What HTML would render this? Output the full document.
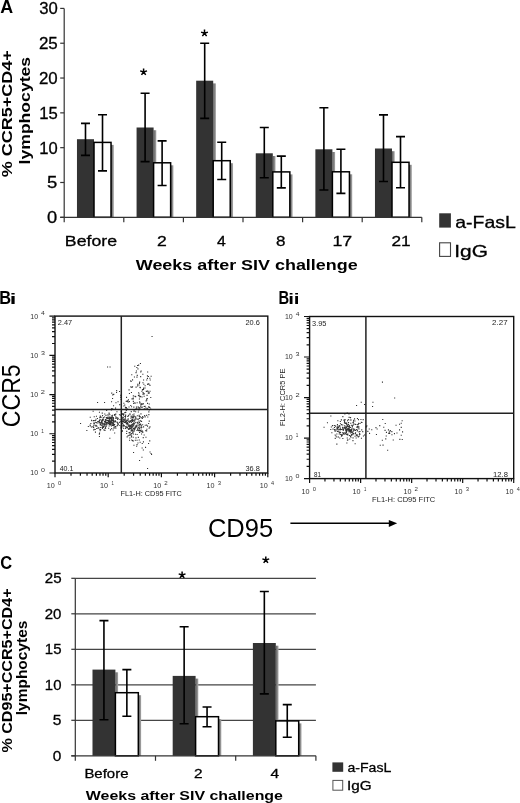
<!DOCTYPE html>
<html><head><meta charset="utf-8"><style>
html,body{margin:0;padding:0;background:#fff;}
svg{display:block;font-family:"Liberation Sans",sans-serif;filter:grayscale(1);}
.v{stroke:#000;stroke-width:0.3px;}
</style></head><body>
<svg width="520" height="803" viewBox="0 0 520 803">
<defs><linearGradient id="sh" x1="0" y1="0" x2="1" y2="0"><stop offset="0" stop-color="#5e5e5e"/><stop offset="1" stop-color="#a8a8a8"/></linearGradient></defs>
<text x="0.35" y="12.60" font-size="17.50" font-weight="bold" fill="#000" textLength="12.93" lengthAdjust="spacingAndGlyphs">A</text>
<text x="-0.77" y="303.60" font-size="17.50" font-weight="bold" fill="#000" textLength="11.84" lengthAdjust="spacingAndGlyphs">B</text>
<text x="9.65" y="303.60" font-size="14.00" font-weight="bold" fill="#000" textLength="6.55" lengthAdjust="spacingAndGlyphs">i</text>
<text x="278.44" y="304.00" font-size="17.50" font-weight="bold" fill="#000" textLength="10.66" lengthAdjust="spacingAndGlyphs">B</text>
<text x="288.17" y="304.00" font-size="14.00" font-weight="bold" fill="#000" textLength="11.38" lengthAdjust="spacingAndGlyphs">ii</text>
<text x="0.34" y="569.00" font-size="17.50" font-weight="bold" fill="#000" textLength="11.91" lengthAdjust="spacingAndGlyphs">C</text>
<rect x="94.00" y="141.90" width="2.7" height="75.40" fill="url(#sh)"/>
<rect x="76.97" y="139.20" width="17.03" height="78.10" fill="#333333"/>
<rect x="111.03" y="144.90" width="2.8" height="72.40" fill="url(#sh)"/>
<rect x="94.00" y="142.40" width="17.03" height="74.90" fill="#fff" stroke="#000" stroke-width="1.5"/>
<rect x="153.60" y="130.20" width="2.7" height="87.10" fill="url(#sh)"/>
<rect x="136.57" y="127.50" width="17.03" height="89.80" fill="#333333"/>
<rect x="170.63" y="165.30" width="2.8" height="52.00" fill="url(#sh)"/>
<rect x="153.60" y="162.80" width="17.03" height="54.50" fill="#fff" stroke="#000" stroke-width="1.5"/>
<rect x="213.20" y="83.40" width="2.7" height="133.90" fill="url(#sh)"/>
<rect x="196.17" y="80.70" width="17.03" height="136.60" fill="#333333"/>
<rect x="230.23" y="163.20" width="2.8" height="54.10" fill="url(#sh)"/>
<rect x="213.20" y="160.70" width="17.03" height="56.60" fill="#fff" stroke="#000" stroke-width="1.5"/>
<rect x="272.80" y="156.00" width="2.7" height="61.30" fill="url(#sh)"/>
<rect x="255.77" y="153.30" width="17.03" height="64.00" fill="#333333"/>
<rect x="289.83" y="174.40" width="2.8" height="42.90" fill="url(#sh)"/>
<rect x="272.80" y="171.90" width="17.03" height="45.40" fill="#fff" stroke="#000" stroke-width="1.5"/>
<rect x="332.40" y="152.00" width="2.7" height="65.30" fill="url(#sh)"/>
<rect x="315.37" y="149.30" width="17.03" height="68.00" fill="#333333"/>
<rect x="349.43" y="174.30" width="2.8" height="43.00" fill="url(#sh)"/>
<rect x="332.40" y="171.80" width="17.03" height="45.50" fill="#fff" stroke="#000" stroke-width="1.5"/>
<rect x="392.00" y="151.20" width="2.7" height="66.10" fill="url(#sh)"/>
<rect x="374.97" y="148.50" width="17.03" height="68.80" fill="#333333"/>
<rect x="409.03" y="164.80" width="2.8" height="52.50" fill="url(#sh)"/>
<rect x="392.00" y="162.30" width="17.03" height="55.00" fill="#fff" stroke="#000" stroke-width="1.5"/>
<path d="M85.49,123.40V155.40M80.99,123.40H89.99M80.99,155.40H89.99" stroke="#000" stroke-width="1.6" fill="none"/>
<path d="M102.51,114.80V170.90M98.01,114.80H107.01M98.01,170.90H107.01" stroke="#000" stroke-width="1.6" fill="none"/>
<path d="M145.09,93.20V161.60M140.59,93.20H149.59M140.59,161.60H149.59" stroke="#000" stroke-width="1.6" fill="none"/>
<path d="M162.11,140.90V185.50M157.61,140.90H166.61M157.61,185.50H166.61" stroke="#000" stroke-width="1.6" fill="none"/>
<path d="M204.69,43.30V118.40M200.19,43.30H209.19M200.19,118.40H209.19" stroke="#000" stroke-width="1.6" fill="none"/>
<path d="M221.71,142.30V179.50M217.21,142.30H226.21M217.21,179.50H226.21" stroke="#000" stroke-width="1.6" fill="none"/>
<path d="M264.29,127.50V177.80M259.79,127.50H268.79M259.79,177.80H268.79" stroke="#000" stroke-width="1.6" fill="none"/>
<path d="M281.31,156.10V187.90M276.81,156.10H285.81M276.81,187.90H285.81" stroke="#000" stroke-width="1.6" fill="none"/>
<path d="M323.89,107.80V190.00M319.39,107.80H328.39M319.39,190.00H328.39" stroke="#000" stroke-width="1.6" fill="none"/>
<path d="M340.91,149.20V193.40M336.41,149.20H345.41M336.41,193.40H345.41" stroke="#000" stroke-width="1.6" fill="none"/>
<path d="M383.49,114.90V181.50M378.99,114.90H387.99M378.99,181.50H387.99" stroke="#000" stroke-width="1.6" fill="none"/>
<path d="M400.51,136.60V187.80M396.01,136.60H405.01M396.01,187.80H405.01" stroke="#000" stroke-width="1.6" fill="none"/>
<line x1="64.2" y1="8.41" x2="64.2" y2="222.30" stroke="#333333" stroke-width="1.2"/>
<line x1="60.2" y1="217.30" x2="421.80" y2="217.30" stroke="#333333" stroke-width="1.2"/>
<line x1="60.2" y1="217.30" x2="64.2" y2="217.30" stroke="#333333" stroke-width="1.2"/>
<line x1="60.2" y1="182.49" x2="64.2" y2="182.49" stroke="#333333" stroke-width="1.2"/>
<line x1="60.2" y1="147.67" x2="64.2" y2="147.67" stroke="#333333" stroke-width="1.2"/>
<line x1="60.2" y1="112.86" x2="64.2" y2="112.86" stroke="#333333" stroke-width="1.2"/>
<line x1="60.2" y1="78.04" x2="64.2" y2="78.04" stroke="#333333" stroke-width="1.2"/>
<line x1="60.2" y1="43.23" x2="64.2" y2="43.23" stroke="#333333" stroke-width="1.2"/>
<line x1="60.2" y1="8.41" x2="64.2" y2="8.41" stroke="#333333" stroke-width="1.2"/>
<line x1="123.80" y1="217.30" x2="123.80" y2="222.30" stroke="#333333" stroke-width="1.2"/>
<line x1="183.40" y1="217.30" x2="183.40" y2="222.30" stroke="#333333" stroke-width="1.2"/>
<line x1="243.00" y1="217.30" x2="243.00" y2="222.30" stroke="#333333" stroke-width="1.2"/>
<line x1="302.60" y1="217.30" x2="302.60" y2="222.30" stroke="#333333" stroke-width="1.2"/>
<line x1="362.20" y1="217.30" x2="362.20" y2="222.30" stroke="#333333" stroke-width="1.2"/>
<line x1="421.80" y1="217.30" x2="421.80" y2="222.30" stroke="#333333" stroke-width="1.2"/>
<text x="46.97" y="223.25" font-size="16.80" fill="#000" textLength="10.20" lengthAdjust="spacingAndGlyphs" class="v">0</text>
<text x="46.96" y="188.44" font-size="16.80" fill="#000" textLength="10.30" lengthAdjust="spacingAndGlyphs" class="v">5</text>
<text x="39.26" y="153.62" font-size="16.80" fill="#000" textLength="18.46" lengthAdjust="spacingAndGlyphs" class="v">10</text>
<text x="39.25" y="118.81" font-size="16.80" fill="#000" textLength="18.56" lengthAdjust="spacingAndGlyphs" class="v">15</text>
<text x="38.96" y="83.99" font-size="16.80" fill="#000" textLength="18.77" lengthAdjust="spacingAndGlyphs" class="v">20</text>
<text x="38.95" y="49.18" font-size="16.80" fill="#000" textLength="18.87" lengthAdjust="spacingAndGlyphs" class="v">25</text>
<text x="39.13" y="14.36" font-size="16.80" fill="#000" textLength="18.59" lengthAdjust="spacingAndGlyphs" class="v">30</text>
<path d="M143.60,72.00L143.60,68.40M143.60,72.00L140.18,70.89M143.60,72.00L141.48,74.91M143.60,72.00L145.72,74.91M143.60,72.00L147.02,70.89" stroke="#000" stroke-width="1.5" fill="none"/>
<path d="M204.50,33.20L204.50,29.60M204.50,33.20L201.08,32.09M204.50,33.20L202.38,36.11M204.50,33.20L206.62,36.11M204.50,33.20L207.92,32.09" stroke="#000" stroke-width="1.5" fill="none"/>
<text x="64.88" y="246.00" font-size="15.00" fill="#000" textLength="52.14" lengthAdjust="spacingAndGlyphs" class="v">Before</text>
<text x="157.02" y="246.00" font-size="15.00" fill="#000" textLength="9.78" lengthAdjust="spacingAndGlyphs" class="v">2</text>
<text x="216.98" y="246.00" font-size="15.00" fill="#000" textLength="8.81" lengthAdjust="spacingAndGlyphs" class="v">4</text>
<text x="276.03" y="246.00" font-size="15.00" fill="#000" textLength="9.47" lengthAdjust="spacingAndGlyphs" class="v">8</text>
<text x="332.42" y="246.00" font-size="15.00" fill="#000" textLength="19.76" lengthAdjust="spacingAndGlyphs" class="v">17</text>
<text x="391.49" y="246.00" font-size="15.00" fill="#000" textLength="19.18" lengthAdjust="spacingAndGlyphs" class="v">21</text>
<text x="135.80" y="270.00" font-size="15.00" font-weight="bold" fill="#000" textLength="221.85" lengthAdjust="spacingAndGlyphs">Weeks after SIV challenge</text>
<rect x="439.2" y="213.3" width="11.7" height="14.3" fill="#333333"/>
<text x="455.22" y="228.00" font-size="16.50" fill="#000" textLength="60.61" lengthAdjust="spacingAndGlyphs" class="v">a-FasL</text>
<rect x="439.6" y="242.8" width="10.9" height="13.6" fill="#fff" stroke="#444" stroke-width="1.1"/>
<text x="454.32" y="256.80" font-size="16.50" fill="#000" textLength="33.68" lengthAdjust="spacingAndGlyphs" class="v">IgG</text>
<g transform="translate(12.30,176.90) rotate(-90)"><text x="-0.45" y="0.00" font-size="15.00" font-weight="bold" fill="#000" textLength="127.24" lengthAdjust="spacingAndGlyphs">% CCR5+CD4+</text></g>
<g transform="translate(30.00,163.20) rotate(-90)"><text x="-1.23" y="0.00" font-size="15.00" font-weight="bold" fill="#000" textLength="107.49" lengthAdjust="spacingAndGlyphs">lymphocytes</text></g>
<line x1="75.3" y1="720.30" x2="315.90" y2="720.30" stroke="#454545" stroke-width="1.25"/>
<line x1="75.3" y1="684.80" x2="315.90" y2="684.80" stroke="#454545" stroke-width="1.25"/>
<line x1="75.3" y1="649.30" x2="315.90" y2="649.30" stroke="#454545" stroke-width="1.25"/>
<line x1="75.3" y1="613.80" x2="315.90" y2="613.80" stroke="#454545" stroke-width="1.25"/>
<line x1="75.3" y1="578.30" x2="315.90" y2="578.30" stroke="#454545" stroke-width="1.25"/>
<rect x="115.40" y="672.30" width="2.7" height="83.50" fill="url(#sh)"/>
<rect x="92.49" y="669.60" width="22.91" height="86.20" fill="#333333"/>
<rect x="138.31" y="695.20" width="2.8" height="60.60" fill="url(#sh)"/>
<rect x="115.40" y="692.70" width="22.91" height="63.10" fill="#fff" stroke="#000" stroke-width="1.5"/>
<rect x="195.60" y="678.60" width="2.7" height="77.20" fill="url(#sh)"/>
<rect x="172.69" y="675.90" width="22.91" height="79.90" fill="#333333"/>
<rect x="218.51" y="719.20" width="2.8" height="36.60" fill="url(#sh)"/>
<rect x="195.60" y="716.70" width="22.91" height="39.10" fill="#fff" stroke="#000" stroke-width="1.5"/>
<rect x="275.80" y="645.70" width="2.7" height="110.10" fill="url(#sh)"/>
<rect x="252.89" y="643.00" width="22.91" height="112.80" fill="#333333"/>
<rect x="298.71" y="723.40" width="2.8" height="32.40" fill="url(#sh)"/>
<rect x="275.80" y="720.90" width="22.91" height="34.90" fill="#fff" stroke="#000" stroke-width="1.5"/>
<path d="M103.94,620.60V719.70M99.44,620.60H108.44M99.44,719.70H108.44" stroke="#000" stroke-width="1.6" fill="none"/>
<path d="M126.86,669.60V716.20M122.36,669.60H131.36M122.36,716.20H131.36" stroke="#000" stroke-width="1.6" fill="none"/>
<path d="M184.14,626.80V723.70M179.64,626.80H188.64M179.64,723.70H188.64" stroke="#000" stroke-width="1.6" fill="none"/>
<path d="M207.06,707.00V726.80M202.56,707.00H211.56M202.56,726.80H211.56" stroke="#000" stroke-width="1.6" fill="none"/>
<path d="M264.34,591.50V693.90M259.84,591.50H268.84M259.84,693.90H268.84" stroke="#000" stroke-width="1.6" fill="none"/>
<path d="M287.26,704.60V737.20M282.76,704.60H291.76M282.76,737.20H291.76" stroke="#000" stroke-width="1.6" fill="none"/>
<line x1="75.3" y1="578.30" x2="75.3" y2="760.80" stroke="#333333" stroke-width="1.2"/>
<line x1="71.3" y1="755.80" x2="315.90" y2="755.80" stroke="#333333" stroke-width="1.2"/>
<line x1="71.3" y1="755.80" x2="75.3" y2="755.80" stroke="#333333" stroke-width="1.2"/>
<line x1="71.3" y1="720.30" x2="75.3" y2="720.30" stroke="#333333" stroke-width="1.2"/>
<line x1="71.3" y1="684.80" x2="75.3" y2="684.80" stroke="#333333" stroke-width="1.2"/>
<line x1="71.3" y1="649.30" x2="75.3" y2="649.30" stroke="#333333" stroke-width="1.2"/>
<line x1="71.3" y1="613.80" x2="75.3" y2="613.80" stroke="#333333" stroke-width="1.2"/>
<line x1="71.3" y1="578.30" x2="75.3" y2="578.30" stroke="#333333" stroke-width="1.2"/>
<line x1="155.50" y1="755.80" x2="155.50" y2="760.80" stroke="#333333" stroke-width="1.2"/>
<line x1="235.70" y1="755.80" x2="235.70" y2="760.80" stroke="#333333" stroke-width="1.2"/>
<line x1="315.90" y1="755.80" x2="315.90" y2="760.80" stroke="#333333" stroke-width="1.2"/>
<text x="52.68" y="760.90" font-size="14.60" fill="#000" textLength="8.57" lengthAdjust="spacingAndGlyphs" class="v">0</text>
<text x="52.68" y="725.40" font-size="14.60" fill="#000" textLength="8.66" lengthAdjust="spacingAndGlyphs" class="v">5</text>
<text x="44.88" y="689.90" font-size="14.60" fill="#000" textLength="16.57" lengthAdjust="spacingAndGlyphs" class="v">10</text>
<text x="44.88" y="654.40" font-size="14.60" fill="#000" textLength="16.66" lengthAdjust="spacingAndGlyphs" class="v">15</text>
<text x="44.75" y="618.90" font-size="14.60" fill="#000" textLength="16.71" lengthAdjust="spacingAndGlyphs" class="v">20</text>
<text x="44.75" y="583.40" font-size="14.60" fill="#000" textLength="16.79" lengthAdjust="spacingAndGlyphs" class="v">25</text>
<path d="M182.10,575.00L182.10,571.40M182.10,575.00L178.68,573.89M182.10,575.00L179.98,577.91M182.10,575.00L184.22,577.91M182.10,575.00L185.52,573.89" stroke="#000" stroke-width="1.5" fill="none"/>
<path d="M265.80,560.00L265.80,556.40M265.80,560.00L262.38,558.89M265.80,560.00L263.68,562.91M265.80,560.00L267.92,562.91M265.80,560.00L269.22,558.89" stroke="#000" stroke-width="1.5" fill="none"/>
<text x="84.40" y="778.00" font-size="13.00" fill="#000" textLength="44.09" lengthAdjust="spacingAndGlyphs" class="v">Before</text>
<text x="194.03" y="778.00" font-size="13.00" fill="#000" textLength="8.56" lengthAdjust="spacingAndGlyphs" class="v">2</text>
<text x="270.49" y="778.00" font-size="13.00" fill="#000" textLength="8.59" lengthAdjust="spacingAndGlyphs" class="v">4</text>
<text x="85.80" y="800.00" font-size="13.60" font-weight="bold" fill="#000" textLength="197.18" lengthAdjust="spacingAndGlyphs">Weeks after SIV challenge</text>
<rect x="332.4" y="762.4" width="10.8" height="9.4" fill="#333333"/>
<text x="347.44" y="772.30" font-size="12.50" fill="#000" textLength="43.82" lengthAdjust="spacingAndGlyphs" class="v">a-FasL</text>
<rect x="332.9" y="780.4" width="9.8" height="9.8" fill="#fff" stroke="#555" stroke-width="1"/>
<text x="346.93" y="789.70" font-size="12.50" fill="#000" textLength="24.57" lengthAdjust="spacingAndGlyphs" class="v">IgG</text>
<g transform="translate(11.50,752.20) rotate(-90)"><text x="-0.40" y="0.00" font-size="13.80" font-weight="bold" fill="#000" textLength="164.13" lengthAdjust="spacingAndGlyphs">% CD95+CCR5+CD4+</text></g>
<g transform="translate(27.30,714.20) rotate(-90)"><text x="-1.09" y="0.00" font-size="13.80" font-weight="bold" fill="#000" textLength="94.76" lengthAdjust="spacingAndGlyphs">lymphocytes</text></g>
<path d="M55.00,473.00v4.3M55.00,473.00h-5.6M71.01,473.00v2.8M55.00,461.19h-3.0M80.38,473.00v2.8M55.00,454.28h-3.0M87.03,473.00v2.8M55.00,449.38h-3.0M92.19,473.00v2.8M55.00,445.58h-3.0M96.40,473.00v2.8M55.00,442.48h-3.0M99.96,473.00v2.8M55.00,439.85h-3.0M103.04,473.00v2.8M55.00,437.58h-3.0M105.77,473.00v2.8M55.00,435.57h-3.0M108.20,473.00v4.3M55.00,433.77h-5.6M124.21,473.00v2.8M55.00,421.97h-3.0M133.58,473.00v2.8M55.00,415.06h-3.0M140.23,473.00v2.8M55.00,410.16h-3.0M145.39,473.00v2.8M55.00,406.36h-3.0M149.60,473.00v2.8M55.00,403.25h-3.0M153.16,473.00v2.8M55.00,400.63h-3.0M156.24,473.00v2.8M55.00,398.35h-3.0M158.97,473.00v2.8M55.00,396.34h-3.0M161.40,473.00v4.3M55.00,394.55h-5.6M177.41,473.00v2.8M55.00,382.74h-3.0M186.78,473.00v2.8M55.00,375.83h-3.0M193.43,473.00v2.8M55.00,370.93h-3.0M198.59,473.00v2.8M55.00,367.13h-3.0M202.80,473.00v2.8M55.00,364.03h-3.0M206.36,473.00v2.8M55.00,361.40h-3.0M209.44,473.00v2.8M55.00,359.13h-3.0M212.17,473.00v2.8M55.00,357.12h-3.0M214.60,473.00v4.3M55.00,355.33h-5.6M230.61,473.00v2.8M55.00,343.52h-3.0M239.98,473.00v2.8M55.00,336.61h-3.0M246.63,473.00v2.8M55.00,331.71h-3.0M251.79,473.00v2.8M55.00,327.91h-3.0M256.00,473.00v2.8M55.00,324.80h-3.0M259.56,473.00v2.8M55.00,322.18h-3.0M262.64,473.00v2.8M55.00,319.90h-3.0M265.37,473.00v2.8M55.00,317.89h-3.0M267.80,473.00v4.3M55.00,316.10h-5.6" stroke="#111" stroke-width="1.2" fill="none"/>
<rect x="55.00" y="316.10" width="212.80" height="156.90" fill="none" stroke="#111" stroke-width="1.4"/>
<line x1="55.00" y1="409.60" x2="267.80" y2="409.60" stroke="#222" stroke-width="1.5"/>
<line x1="121.30" y1="316.10" x2="121.30" y2="473.00" stroke="#222" stroke-width="1.5"/>
<text x="46.86" y="488.20" font-size="7.00" fill="#333" textLength="8.01" lengthAdjust="spacingAndGlyphs">10</text>
<text x="58.07" y="484.90" font-size="5.40" fill="#333" textLength="3.24" lengthAdjust="spacingAndGlyphs">0</text>
<text x="100.06" y="488.20" font-size="7.00" fill="#333" textLength="8.01" lengthAdjust="spacingAndGlyphs">10</text>
<text x="111.59" y="484.90" font-size="5.40" fill="#333" textLength="2.30" lengthAdjust="spacingAndGlyphs">1</text>
<text x="153.26" y="488.20" font-size="7.00" fill="#333" textLength="8.01" lengthAdjust="spacingAndGlyphs">10</text>
<text x="164.39" y="484.90" font-size="5.40" fill="#333" textLength="3.42" lengthAdjust="spacingAndGlyphs">2</text>
<text x="206.46" y="488.20" font-size="7.00" fill="#333" textLength="8.01" lengthAdjust="spacingAndGlyphs">10</text>
<text x="217.66" y="484.90" font-size="5.40" fill="#333" textLength="3.28" lengthAdjust="spacingAndGlyphs">3</text>
<text x="259.66" y="488.20" font-size="7.00" fill="#333" textLength="8.01" lengthAdjust="spacingAndGlyphs">10</text>
<text x="270.99" y="484.90" font-size="5.40" fill="#333" textLength="3.08" lengthAdjust="spacingAndGlyphs">4</text>
<text x="30.28" y="475.40" font-size="7.00" fill="#333" textLength="7.79" lengthAdjust="spacingAndGlyphs">10</text>
<text x="40.92" y="472.20" font-size="5.40" fill="#333" textLength="3.94" lengthAdjust="spacingAndGlyphs">0</text>
<text x="30.28" y="436.17" font-size="7.00" fill="#333" textLength="7.79" lengthAdjust="spacingAndGlyphs">10</text>
<text x="41.26" y="432.97" font-size="5.40" fill="#333" textLength="2.56" lengthAdjust="spacingAndGlyphs">1</text>
<text x="30.28" y="396.95" font-size="7.00" fill="#333" textLength="7.79" lengthAdjust="spacingAndGlyphs">10</text>
<text x="40.83" y="393.75" font-size="5.40" fill="#333" textLength="4.16" lengthAdjust="spacingAndGlyphs">2</text>
<text x="30.28" y="357.73" font-size="7.00" fill="#333" textLength="7.79" lengthAdjust="spacingAndGlyphs">10</text>
<text x="40.91" y="354.53" font-size="5.40" fill="#333" textLength="3.98" lengthAdjust="spacingAndGlyphs">3</text>
<text x="30.28" y="318.50" font-size="7.00" fill="#333" textLength="7.79" lengthAdjust="spacingAndGlyphs">10</text>
<text x="41.07" y="315.30" font-size="5.40" fill="#333" textLength="3.74" lengthAdjust="spacingAndGlyphs">4</text>
<path d="M309.60,478.60v4.3M309.60,478.60h-5.6M324.96,478.60v2.8M309.60,466.40h-3.0M333.95,478.60v2.8M309.60,459.26h-3.0M340.32,478.60v2.8M309.60,454.20h-3.0M345.26,478.60v2.8M309.60,450.27h-3.0M349.31,478.60v2.8M309.60,447.07h-3.0M352.72,478.60v2.8M309.60,444.35h-3.0M355.68,478.60v2.8M309.60,442.00h-3.0M358.29,478.60v2.8M309.60,439.93h-3.0M360.62,478.60v4.3M309.60,438.08h-5.6M375.99,478.60v2.8M309.60,425.88h-3.0M384.97,478.60v2.8M309.60,418.74h-3.0M391.35,478.60v2.8M309.60,413.68h-3.0M396.29,478.60v2.8M309.60,409.75h-3.0M400.33,478.60v2.8M309.60,406.54h-3.0M403.75,478.60v2.8M309.60,403.83h-3.0M406.71,478.60v2.8M309.60,401.48h-3.0M409.32,478.60v2.8M309.60,399.40h-3.0M411.65,478.60v4.3M309.60,397.55h-5.6M427.01,478.60v2.8M309.60,385.35h-3.0M436.00,478.60v2.8M309.60,378.21h-3.0M442.37,478.60v2.8M309.60,373.15h-3.0M447.31,478.60v2.8M309.60,369.22h-3.0M451.36,478.60v2.8M309.60,366.02h-3.0M454.77,478.60v2.8M309.60,363.30h-3.0M457.73,478.60v2.8M309.60,360.95h-3.0M460.34,478.60v2.8M309.60,358.88h-3.0M462.68,478.60v4.3M309.60,357.02h-5.6M478.04,478.60v2.8M309.60,344.83h-3.0M487.02,478.60v2.8M309.60,337.69h-3.0M493.40,478.60v2.8M309.60,332.63h-3.0M498.34,478.60v2.8M309.60,328.70h-3.0M502.38,478.60v2.8M309.60,325.49h-3.0M505.80,478.60v2.8M309.60,322.78h-3.0M508.76,478.60v2.8M309.60,320.43h-3.0M511.37,478.60v2.8M309.60,318.35h-3.0M513.70,478.60v4.3M309.60,316.50h-5.6" stroke="#111" stroke-width="1.2" fill="none"/>
<rect x="309.60" y="316.50" width="204.10" height="162.10" fill="none" stroke="#111" stroke-width="1.4"/>
<line x1="309.60" y1="413.20" x2="513.70" y2="413.20" stroke="#222" stroke-width="1.5"/>
<line x1="365.90" y1="316.50" x2="365.90" y2="478.60" stroke="#222" stroke-width="1.5"/>
<text x="301.46" y="493.80" font-size="7.00" fill="#333" textLength="8.01" lengthAdjust="spacingAndGlyphs">10</text>
<text x="312.67" y="490.50" font-size="5.40" fill="#333" textLength="3.24" lengthAdjust="spacingAndGlyphs">0</text>
<text x="352.48" y="493.80" font-size="7.00" fill="#333" textLength="8.01" lengthAdjust="spacingAndGlyphs">10</text>
<text x="364.01" y="490.50" font-size="5.40" fill="#333" textLength="2.30" lengthAdjust="spacingAndGlyphs">1</text>
<text x="403.51" y="493.80" font-size="7.00" fill="#333" textLength="8.01" lengthAdjust="spacingAndGlyphs">10</text>
<text x="414.64" y="490.50" font-size="5.40" fill="#333" textLength="3.42" lengthAdjust="spacingAndGlyphs">2</text>
<text x="454.54" y="493.80" font-size="7.00" fill="#333" textLength="8.01" lengthAdjust="spacingAndGlyphs">10</text>
<text x="465.74" y="490.50" font-size="5.40" fill="#333" textLength="3.28" lengthAdjust="spacingAndGlyphs">3</text>
<text x="505.56" y="493.80" font-size="7.00" fill="#333" textLength="8.01" lengthAdjust="spacingAndGlyphs">10</text>
<text x="516.89" y="490.50" font-size="5.40" fill="#333" textLength="3.08" lengthAdjust="spacingAndGlyphs">4</text>
<text x="284.88" y="481.00" font-size="7.00" fill="#333" textLength="7.79" lengthAdjust="spacingAndGlyphs">10</text>
<text x="295.52" y="477.80" font-size="5.40" fill="#333" textLength="3.94" lengthAdjust="spacingAndGlyphs">0</text>
<text x="284.88" y="440.48" font-size="7.00" fill="#333" textLength="7.79" lengthAdjust="spacingAndGlyphs">10</text>
<text x="295.86" y="437.28" font-size="5.40" fill="#333" textLength="2.56" lengthAdjust="spacingAndGlyphs">1</text>
<text x="284.88" y="399.95" font-size="7.00" fill="#333" textLength="7.79" lengthAdjust="spacingAndGlyphs">10</text>
<text x="295.43" y="396.75" font-size="5.40" fill="#333" textLength="4.16" lengthAdjust="spacingAndGlyphs">2</text>
<text x="284.88" y="359.42" font-size="7.00" fill="#333" textLength="7.79" lengthAdjust="spacingAndGlyphs">10</text>
<text x="295.51" y="356.22" font-size="5.40" fill="#333" textLength="3.98" lengthAdjust="spacingAndGlyphs">3</text>
<text x="284.88" y="318.90" font-size="7.00" fill="#333" textLength="7.79" lengthAdjust="spacingAndGlyphs">10</text>
<text x="295.67" y="315.70" font-size="5.40" fill="#333" textLength="3.74" lengthAdjust="spacingAndGlyphs">4</text>
<text x="57.83" y="325.00" font-size="7.40" fill="#222" textLength="14.35" lengthAdjust="spacingAndGlyphs">2.47</text>
<text x="245.53" y="325.00" font-size="7.40" fill="#222" textLength="14.37" lengthAdjust="spacingAndGlyphs">20.6</text>
<text x="59.66" y="471.40" font-size="7.00" fill="#222" textLength="13.77" lengthAdjust="spacingAndGlyphs">40.1</text>
<text x="245.50" y="470.80" font-size="7.00" fill="#222" textLength="14.40" lengthAdjust="spacingAndGlyphs">36.8</text>
<text x="312.10" y="325.50" font-size="7.40" fill="#222" textLength="14.40" lengthAdjust="spacingAndGlyphs">3.95</text>
<text x="492.10" y="325.30" font-size="7.40" fill="#222" textLength="15.51" lengthAdjust="spacingAndGlyphs">2.27</text>
<text x="314.12" y="477.00" font-size="7.00" fill="#222" textLength="6.98" lengthAdjust="spacingAndGlyphs">81</text>
<text x="493.03" y="476.60" font-size="7.00" fill="#222" textLength="14.89" lengthAdjust="spacingAndGlyphs">12.8</text>
<text x="120.52" y="495.70" font-size="6.80" fill="#222" textLength="61.24" lengthAdjust="spacingAndGlyphs">FL1-H: CD95 FITC</text>
<text x="372.10" y="501.60" font-size="6.80" fill="#222" textLength="63.17" lengthAdjust="spacingAndGlyphs">FL1-H: CD95 FITC</text>
<g transform="translate(285.10,425.40) rotate(-90)"><text x="-0.60" y="0.00" font-size="6.80" fill="#222" textLength="57.43" lengthAdjust="spacingAndGlyphs">FL2-H: CCR5 PE</text></g>
<g transform="translate(19.60,426.00) rotate(-90)"><text x="-1.15" y="0.00" font-size="25.00" fill="#000" textLength="62.84" lengthAdjust="spacingAndGlyphs">CCR5</text></g>
<text x="207.92" y="536.90" font-size="25.00" fill="#000" textLength="65.24" lengthAdjust="spacingAndGlyphs">CD95</text>
<path d="M290.4,523.3H390" stroke="#000" stroke-width="1.5"/>
<path d="M388.8,519.9L397.2,523.3L388.8,526.9Z" fill="#000"/>
<path d="M106.3,424.2h1.1v1.1h-1.1zM117.6,417.8h1.1v1.1h-1.1zM116.4,411.2h1.1v1.1h-1.1zM101.7,419.0h1.1v1.1h-1.1zM103.5,423.1h1.1v1.1h-1.1zM101.5,425.1h1.1v1.1h-1.1zM110.8,421.5h1.1v1.1h-1.1zM105.5,421.8h1.1v1.1h-1.1zM112.3,422.7h1.1v1.1h-1.1zM90.3,422.9h1.1v1.1h-1.1zM119.3,424.9h1.1v1.1h-1.1zM105.2,422.3h1.1v1.1h-1.1zM111.8,422.0h1.1v1.1h-1.1zM104.8,424.2h1.1v1.1h-1.1zM102.8,417.1h1.1v1.1h-1.1zM109.9,417.6h1.1v1.1h-1.1zM113.0,427.5h1.1v1.1h-1.1zM104.3,423.3h1.1v1.1h-1.1zM104.7,420.4h1.1v1.1h-1.1zM111.8,422.2h1.1v1.1h-1.1zM98.6,420.4h1.1v1.1h-1.1zM93.1,424.7h1.1v1.1h-1.1zM109.4,417.9h1.1v1.1h-1.1zM100.3,423.6h1.1v1.1h-1.1zM89.7,416.7h1.1v1.1h-1.1zM99.1,428.7h1.1v1.1h-1.1zM102.0,419.7h1.1v1.1h-1.1zM95.9,415.7h1.1v1.1h-1.1zM93.3,422.4h1.1v1.1h-1.1zM106.3,419.7h1.1v1.1h-1.1zM113.6,421.1h1.1v1.1h-1.1zM104.0,416.5h1.1v1.1h-1.1zM99.7,424.3h1.1v1.1h-1.1zM109.3,437.7h1.1v1.1h-1.1zM112.1,414.7h1.1v1.1h-1.1zM103.4,423.4h1.1v1.1h-1.1zM110.6,419.4h1.1v1.1h-1.1zM114.9,421.1h1.1v1.1h-1.1zM104.2,413.4h1.1v1.1h-1.1zM99.1,417.2h1.1v1.1h-1.1zM109.0,423.2h1.1v1.1h-1.1zM108.1,421.0h1.1v1.1h-1.1zM115.3,427.6h1.1v1.1h-1.1zM95.1,419.9h1.1v1.1h-1.1zM100.4,423.1h1.1v1.1h-1.1zM98.9,436.0h1.1v1.1h-1.1zM91.3,420.2h1.1v1.1h-1.1zM107.1,417.2h1.1v1.1h-1.1zM110.5,420.7h1.1v1.1h-1.1zM99.7,422.2h1.1v1.1h-1.1zM117.8,423.6h1.1v1.1h-1.1zM113.0,421.0h1.1v1.1h-1.1zM111.3,417.2h1.1v1.1h-1.1zM109.4,422.0h1.1v1.1h-1.1zM114.1,432.4h1.1v1.1h-1.1zM94.7,429.0h1.1v1.1h-1.1zM111.2,407.9h1.1v1.1h-1.1zM111.1,420.1h1.1v1.1h-1.1zM91.0,419.7h1.1v1.1h-1.1zM108.9,423.9h1.1v1.1h-1.1zM103.9,421.0h1.1v1.1h-1.1zM112.6,429.4h1.1v1.1h-1.1zM102.3,426.3h1.1v1.1h-1.1zM105.8,425.6h1.1v1.1h-1.1zM108.9,421.9h1.1v1.1h-1.1zM98.6,422.4h1.1v1.1h-1.1zM111.1,422.3h1.1v1.1h-1.1zM105.1,427.6h1.1v1.1h-1.1zM110.2,423.3h1.1v1.1h-1.1zM101.6,420.6h1.1v1.1h-1.1zM115.2,426.0h1.1v1.1h-1.1zM111.1,421.6h1.1v1.1h-1.1zM104.5,421.4h1.1v1.1h-1.1zM111.4,417.1h1.1v1.1h-1.1zM116.7,417.3h1.1v1.1h-1.1zM121.2,416.3h1.1v1.1h-1.1zM92.6,410.7h1.1v1.1h-1.1zM113.5,425.1h1.1v1.1h-1.1zM110.0,423.5h1.1v1.1h-1.1zM105.2,420.6h1.1v1.1h-1.1zM97.4,427.6h1.1v1.1h-1.1zM116.7,421.9h1.1v1.1h-1.1zM95.3,424.8h1.1v1.1h-1.1zM110.8,409.4h1.1v1.1h-1.1zM117.1,418.8h1.1v1.1h-1.1zM92.4,426.0h1.1v1.1h-1.1zM103.4,429.3h1.1v1.1h-1.1zM94.9,431.6h1.1v1.1h-1.1zM108.1,427.7h1.1v1.1h-1.1zM118.9,414.2h1.1v1.1h-1.1zM90.9,426.4h1.1v1.1h-1.1zM101.1,422.4h1.1v1.1h-1.1zM112.0,425.0h1.1v1.1h-1.1zM119.4,418.9h1.1v1.1h-1.1zM109.6,422.0h1.1v1.1h-1.1zM99.7,415.6h1.1v1.1h-1.1zM108.5,423.2h1.1v1.1h-1.1zM105.9,419.5h1.1v1.1h-1.1zM104.3,423.4h1.1v1.1h-1.1zM99.8,424.5h1.1v1.1h-1.1zM109.3,420.5h1.1v1.1h-1.1zM108.6,422.6h1.1v1.1h-1.1zM105.2,421.6h1.1v1.1h-1.1zM104.1,425.3h1.1v1.1h-1.1zM95.1,425.4h1.1v1.1h-1.1zM101.9,419.6h1.1v1.1h-1.1zM116.3,417.3h1.1v1.1h-1.1zM104.4,429.8h1.1v1.1h-1.1zM93.8,422.9h1.1v1.1h-1.1zM117.3,424.4h1.1v1.1h-1.1zM110.5,422.6h1.1v1.1h-1.1zM106.5,418.0h1.1v1.1h-1.1zM102.1,422.6h1.1v1.1h-1.1zM93.7,424.5h1.1v1.1h-1.1zM117.3,422.6h1.1v1.1h-1.1zM99.0,419.8h1.1v1.1h-1.1zM100.5,421.9h1.1v1.1h-1.1zM111.1,428.1h1.1v1.1h-1.1zM98.9,411.7h1.1v1.1h-1.1zM103.7,423.9h1.1v1.1h-1.1zM103.0,419.5h1.1v1.1h-1.1zM107.6,423.2h1.1v1.1h-1.1zM115.3,417.8h1.1v1.1h-1.1zM106.2,423.1h1.1v1.1h-1.1zM113.8,427.5h1.1v1.1h-1.1zM102.4,423.7h1.1v1.1h-1.1zM108.8,423.1h1.1v1.1h-1.1zM87.8,425.9h1.1v1.1h-1.1zM93.7,419.9h1.1v1.1h-1.1zM112.8,423.0h1.1v1.1h-1.1zM101.0,421.3h1.1v1.1h-1.1zM110.9,417.0h1.1v1.1h-1.1zM110.6,420.6h1.1v1.1h-1.1zM117.2,418.8h1.1v1.1h-1.1zM112.9,423.9h1.1v1.1h-1.1zM114.6,420.0h1.1v1.1h-1.1zM105.1,419.2h1.1v1.1h-1.1zM100.1,429.1h1.1v1.1h-1.1zM99.8,427.0h1.1v1.1h-1.1zM101.9,428.0h1.1v1.1h-1.1zM96.4,425.7h1.1v1.1h-1.1zM101.3,421.7h1.1v1.1h-1.1zM105.2,419.7h1.1v1.1h-1.1zM108.1,419.9h1.1v1.1h-1.1zM103.1,426.3h1.1v1.1h-1.1zM89.6,424.5h1.1v1.1h-1.1zM105.4,414.8h1.1v1.1h-1.1zM107.9,421.0h1.1v1.1h-1.1zM115.2,413.6h1.1v1.1h-1.1zM110.9,421.5h1.1v1.1h-1.1zM100.5,416.8h1.1v1.1h-1.1zM99.8,416.6h1.1v1.1h-1.1zM112.4,420.2h1.1v1.1h-1.1zM99.0,432.5h1.1v1.1h-1.1zM109.3,414.2h1.1v1.1h-1.1zM109.9,429.3h1.1v1.1h-1.1zM110.8,417.6h1.1v1.1h-1.1zM110.6,418.5h1.1v1.1h-1.1zM107.7,420.4h1.1v1.1h-1.1zM107.5,414.6h1.1v1.1h-1.1zM93.2,429.4h1.1v1.1h-1.1zM104.6,424.0h1.1v1.1h-1.1zM99.6,419.0h1.1v1.1h-1.1zM107.1,420.1h1.1v1.1h-1.1zM102.0,415.1h1.1v1.1h-1.1zM111.3,419.1h1.1v1.1h-1.1zM113.0,424.8h1.1v1.1h-1.1zM108.6,413.2h1.1v1.1h-1.1zM108.7,419.1h1.1v1.1h-1.1zM106.8,422.1h1.1v1.1h-1.1zM102.2,426.9h1.1v1.1h-1.1zM104.6,427.9h1.1v1.1h-1.1zM101.8,420.0h1.1v1.1h-1.1zM109.3,417.6h1.1v1.1h-1.1zM106.1,423.6h1.1v1.1h-1.1zM110.9,419.1h1.1v1.1h-1.1zM94.7,421.8h1.1v1.1h-1.1zM113.5,425.3h1.1v1.1h-1.1zM99.5,430.2h1.1v1.1h-1.1zM99.8,423.7h1.1v1.1h-1.1zM104.3,420.9h1.1v1.1h-1.1zM101.2,424.8h1.1v1.1h-1.1zM108.5,412.4h1.1v1.1h-1.1zM101.1,422.1h1.1v1.1h-1.1zM96.9,418.0h1.1v1.1h-1.1zM98.8,433.6h1.1v1.1h-1.1zM117.2,423.1h1.1v1.1h-1.1zM106.4,422.1h1.1v1.1h-1.1zM96.1,422.1h1.1v1.1h-1.1zM106.1,409.9h1.1v1.1h-1.1zM92.8,426.8h1.1v1.1h-1.1zM121.2,426.7h1.1v1.1h-1.1zM93.0,420.1h1.1v1.1h-1.1zM110.1,424.0h1.1v1.1h-1.1zM110.6,424.1h1.1v1.1h-1.1zM93.7,416.2h1.1v1.1h-1.1zM108.6,425.4h1.1v1.1h-1.1zM114.5,426.5h1.1v1.1h-1.1zM110.0,422.0h1.1v1.1h-1.1zM108.2,420.9h1.1v1.1h-1.1zM114.1,423.9h1.1v1.1h-1.1zM107.4,414.2h1.1v1.1h-1.1zM108.9,421.5h1.1v1.1h-1.1zM104.9,426.5h1.1v1.1h-1.1zM111.4,415.0h1.1v1.1h-1.1zM98.0,427.3h1.1v1.1h-1.1zM112.7,418.6h1.1v1.1h-1.1zM101.7,412.6h1.1v1.1h-1.1zM96.7,422.4h1.1v1.1h-1.1zM109.1,416.6h1.1v1.1h-1.1zM120.4,420.8h1.1v1.1h-1.1zM114.2,414.9h1.1v1.1h-1.1zM101.6,427.0h1.1v1.1h-1.1zM111.9,417.2h1.1v1.1h-1.1zM102.1,423.7h1.1v1.1h-1.1zM104.9,418.9h1.1v1.1h-1.1zM106.8,419.9h1.1v1.1h-1.1zM86.3,429.9h1.1v1.1h-1.1zM107.6,422.2h1.1v1.1h-1.1zM97.2,421.0h1.1v1.1h-1.1zM100.1,416.6h1.1v1.1h-1.1zM93.5,428.7h1.1v1.1h-1.1zM93.1,426.8h1.1v1.1h-1.1zM98.0,421.2h1.1v1.1h-1.1zM113.0,421.6h1.1v1.1h-1.1zM120.2,414.6h1.1v1.1h-1.1zM105.8,416.9h1.1v1.1h-1.1zM115.3,416.3h1.1v1.1h-1.1zM103.8,423.5h1.1v1.1h-1.1zM89.7,425.3h1.1v1.1h-1.1zM107.3,417.9h1.1v1.1h-1.1zM109.8,424.3h1.1v1.1h-1.1zM102.4,425.7h1.1v1.1h-1.1zM108.6,421.9h1.1v1.1h-1.1zM110.9,425.5h1.1v1.1h-1.1zM98.7,421.3h1.1v1.1h-1.1zM93.4,422.9h1.1v1.1h-1.1zM104.1,424.0h1.1v1.1h-1.1zM104.2,421.6h1.1v1.1h-1.1zM103.0,425.6h1.1v1.1h-1.1zM114.4,414.5h1.1v1.1h-1.1zM120.7,425.9h1.1v1.1h-1.1zM102.5,418.4h1.1v1.1h-1.1zM111.9,419.9h1.1v1.1h-1.1zM114.0,414.0h1.1v1.1h-1.1zM112.1,423.4h1.1v1.1h-1.1zM114.9,426.0h1.1v1.1h-1.1zM102.7,426.9h1.1v1.1h-1.1zM112.3,424.4h1.1v1.1h-1.1zM112.8,416.9h1.1v1.1h-1.1zM100.7,420.2h1.1v1.1h-1.1zM111.2,416.4h1.1v1.1h-1.1zM116.7,425.1h1.1v1.1h-1.1zM109.1,421.9h1.1v1.1h-1.1zM101.2,422.1h1.1v1.1h-1.1zM119.1,421.8h1.1v1.1h-1.1zM95.4,418.7h1.1v1.1h-1.1zM110.3,416.7h1.1v1.1h-1.1zM105.9,417.5h1.1v1.1h-1.1zM95.9,425.3h1.1v1.1h-1.1zM116.4,421.5h1.1v1.1h-1.1zM109.0,423.7h1.1v1.1h-1.1zM96.1,427.9h1.1v1.1h-1.1zM106.2,417.3h1.1v1.1h-1.1zM108.4,417.6h1.1v1.1h-1.1zM110.4,418.2h1.1v1.1h-1.1zM106.2,419.6h1.1v1.1h-1.1zM108.5,418.0h1.1v1.1h-1.1zM112.8,420.5h1.1v1.1h-1.1zM113.1,423.4h1.1v1.1h-1.1zM113.0,419.7h1.1v1.1h-1.1zM110.1,422.5h1.1v1.1h-1.1zM109.4,420.6h1.1v1.1h-1.1zM113.0,417.8h1.1v1.1h-1.1zM109.0,419.5h1.1v1.1h-1.1zM110.9,418.0h1.1v1.1h-1.1zM113.7,421.5h1.1v1.1h-1.1zM109.0,417.7h1.1v1.1h-1.1zM108.3,422.6h1.1v1.1h-1.1zM110.0,421.2h1.1v1.1h-1.1zM111.7,416.0h1.1v1.1h-1.1zM111.4,421.6h1.1v1.1h-1.1zM110.4,423.1h1.1v1.1h-1.1zM111.6,418.4h1.1v1.1h-1.1zM105.5,422.0h1.1v1.1h-1.1zM107.6,416.4h1.1v1.1h-1.1zM110.5,420.5h1.1v1.1h-1.1zM107.4,416.7h1.1v1.1h-1.1zM133.6,409.0h1.1v1.1h-1.1zM133.0,427.9h1.1v1.1h-1.1zM147.2,416.5h1.1v1.1h-1.1zM125.5,407.8h1.1v1.1h-1.1zM136.2,418.4h1.1v1.1h-1.1zM130.8,421.8h1.1v1.1h-1.1zM127.6,418.3h1.1v1.1h-1.1zM134.6,418.5h1.1v1.1h-1.1zM142.3,431.4h1.1v1.1h-1.1zM120.7,427.8h1.1v1.1h-1.1zM134.2,429.0h1.1v1.1h-1.1zM132.6,417.2h1.1v1.1h-1.1zM142.1,424.2h1.1v1.1h-1.1zM144.6,416.3h1.1v1.1h-1.1zM122.9,427.7h1.1v1.1h-1.1zM143.0,426.3h1.1v1.1h-1.1zM130.4,419.9h1.1v1.1h-1.1zM128.8,432.5h1.1v1.1h-1.1zM141.3,430.6h1.1v1.1h-1.1zM131.7,429.3h1.1v1.1h-1.1zM132.4,431.7h1.1v1.1h-1.1zM141.4,430.3h1.1v1.1h-1.1zM139.7,416.4h1.1v1.1h-1.1zM136.7,421.8h1.1v1.1h-1.1zM138.4,425.0h1.1v1.1h-1.1zM123.0,424.4h1.1v1.1h-1.1zM131.1,433.1h1.1v1.1h-1.1zM121.9,430.3h1.1v1.1h-1.1zM128.6,428.9h1.1v1.1h-1.1zM142.2,431.8h1.1v1.1h-1.1zM122.4,425.2h1.1v1.1h-1.1zM129.1,421.8h1.1v1.1h-1.1zM128.6,432.0h1.1v1.1h-1.1zM139.0,428.3h1.1v1.1h-1.1zM129.7,431.7h1.1v1.1h-1.1zM128.4,421.0h1.1v1.1h-1.1zM134.0,427.9h1.1v1.1h-1.1zM133.5,413.4h1.1v1.1h-1.1zM126.5,422.3h1.1v1.1h-1.1zM131.8,417.0h1.1v1.1h-1.1zM127.2,415.9h1.1v1.1h-1.1zM133.5,410.8h1.1v1.1h-1.1zM129.2,437.5h1.1v1.1h-1.1zM125.1,421.1h1.1v1.1h-1.1zM129.8,424.7h1.1v1.1h-1.1zM132.7,431.2h1.1v1.1h-1.1zM147.0,425.6h1.1v1.1h-1.1zM126.3,425.8h1.1v1.1h-1.1zM132.3,414.3h1.1v1.1h-1.1zM141.0,426.6h1.1v1.1h-1.1zM121.1,422.5h1.1v1.1h-1.1zM129.1,413.5h1.1v1.1h-1.1zM148.3,414.1h1.1v1.1h-1.1zM132.9,416.7h1.1v1.1h-1.1zM139.1,429.9h1.1v1.1h-1.1zM128.3,425.6h1.1v1.1h-1.1zM137.6,406.3h1.1v1.1h-1.1zM131.4,419.1h1.1v1.1h-1.1zM138.4,420.6h1.1v1.1h-1.1zM138.5,423.6h1.1v1.1h-1.1zM140.9,417.2h1.1v1.1h-1.1zM124.3,415.9h1.1v1.1h-1.1zM121.7,422.3h1.1v1.1h-1.1zM136.3,424.8h1.1v1.1h-1.1zM121.8,420.9h1.1v1.1h-1.1zM136.5,439.7h1.1v1.1h-1.1zM121.0,419.4h1.1v1.1h-1.1zM136.1,425.1h1.1v1.1h-1.1zM130.7,416.4h1.1v1.1h-1.1zM126.8,419.9h1.1v1.1h-1.1zM123.3,425.2h1.1v1.1h-1.1zM131.8,427.2h1.1v1.1h-1.1zM127.9,425.3h1.1v1.1h-1.1zM127.0,422.8h1.1v1.1h-1.1zM135.1,411.2h1.1v1.1h-1.1zM120.6,398.9h1.1v1.1h-1.1zM142.9,441.3h1.1v1.1h-1.1zM127.7,428.2h1.1v1.1h-1.1zM121.5,420.9h1.1v1.1h-1.1zM140.4,413.3h1.1v1.1h-1.1zM142.5,416.8h1.1v1.1h-1.1zM128.6,431.9h1.1v1.1h-1.1zM123.3,402.7h1.1v1.1h-1.1zM130.1,420.8h1.1v1.1h-1.1zM124.8,427.9h1.1v1.1h-1.1zM127.7,423.5h1.1v1.1h-1.1zM141.7,430.5h1.1v1.1h-1.1zM132.9,422.7h1.1v1.1h-1.1zM131.1,439.5h1.1v1.1h-1.1zM132.6,416.5h1.1v1.1h-1.1zM129.6,413.6h1.1v1.1h-1.1zM136.3,426.1h1.1v1.1h-1.1zM136.6,434.0h1.1v1.1h-1.1zM127.2,422.1h1.1v1.1h-1.1zM130.8,430.3h1.1v1.1h-1.1zM148.1,423.0h1.1v1.1h-1.1zM133.2,415.6h1.1v1.1h-1.1zM128.6,432.2h1.1v1.1h-1.1zM145.4,436.7h1.1v1.1h-1.1zM130.1,433.4h1.1v1.1h-1.1zM121.8,418.4h1.1v1.1h-1.1zM135.1,416.2h1.1v1.1h-1.1zM123.3,413.7h1.1v1.1h-1.1zM126.3,420.7h1.1v1.1h-1.1zM132.4,427.5h1.1v1.1h-1.1zM129.0,426.3h1.1v1.1h-1.1zM124.3,412.1h1.1v1.1h-1.1zM125.9,423.5h1.1v1.1h-1.1zM125.5,422.2h1.1v1.1h-1.1zM138.7,425.4h1.1v1.1h-1.1zM124.6,421.8h1.1v1.1h-1.1zM125.7,420.8h1.1v1.1h-1.1zM145.3,430.1h1.1v1.1h-1.1zM125.8,423.0h1.1v1.1h-1.1zM141.2,426.8h1.1v1.1h-1.1zM139.9,420.3h1.1v1.1h-1.1zM128.9,425.5h1.1v1.1h-1.1zM133.4,409.3h1.1v1.1h-1.1zM135.0,427.3h1.1v1.1h-1.1zM137.3,422.7h1.1v1.1h-1.1zM130.5,429.4h1.1v1.1h-1.1zM139.0,423.7h1.1v1.1h-1.1zM140.4,424.4h1.1v1.1h-1.1zM122.1,422.9h1.1v1.1h-1.1zM140.7,425.1h1.1v1.1h-1.1zM131.3,420.2h1.1v1.1h-1.1zM125.8,410.0h1.1v1.1h-1.1zM127.6,435.1h1.1v1.1h-1.1zM144.1,415.1h1.1v1.1h-1.1zM137.4,422.2h1.1v1.1h-1.1zM130.6,425.7h1.1v1.1h-1.1zM129.0,426.6h1.1v1.1h-1.1zM128.7,428.0h1.1v1.1h-1.1zM126.2,430.8h1.1v1.1h-1.1zM136.5,444.1h1.1v1.1h-1.1zM123.0,414.7h1.1v1.1h-1.1zM127.2,424.0h1.1v1.1h-1.1zM125.5,419.6h1.1v1.1h-1.1zM124.5,418.2h1.1v1.1h-1.1zM135.6,426.1h1.1v1.1h-1.1zM132.9,433.5h1.1v1.1h-1.1zM124.9,417.2h1.1v1.1h-1.1zM122.9,416.7h1.1v1.1h-1.1zM126.5,427.2h1.1v1.1h-1.1zM137.3,428.1h1.1v1.1h-1.1zM130.9,436.5h1.1v1.1h-1.1zM131.7,430.3h1.1v1.1h-1.1zM127.5,424.1h1.1v1.1h-1.1zM128.1,420.4h1.1v1.1h-1.1zM131.6,424.8h1.1v1.1h-1.1zM142.1,416.1h1.1v1.1h-1.1zM124.1,421.9h1.1v1.1h-1.1zM125.7,421.0h1.1v1.1h-1.1zM140.0,423.4h1.1v1.1h-1.1zM131.7,420.4h1.1v1.1h-1.1zM130.3,434.6h1.1v1.1h-1.1zM125.6,426.9h1.1v1.1h-1.1zM131.4,419.1h1.1v1.1h-1.1zM139.0,417.8h1.1v1.1h-1.1zM123.3,419.7h1.1v1.1h-1.1zM140.2,426.7h1.1v1.1h-1.1zM121.5,419.0h1.1v1.1h-1.1zM124.5,420.6h1.1v1.1h-1.1zM133.8,430.3h1.1v1.1h-1.1zM130.0,425.0h1.1v1.1h-1.1zM135.2,417.3h1.1v1.1h-1.1zM124.4,419.0h1.1v1.1h-1.1zM122.3,417.0h1.1v1.1h-1.1zM121.0,413.3h1.1v1.1h-1.1zM121.9,420.2h1.1v1.1h-1.1zM132.3,423.7h1.1v1.1h-1.1zM125.0,415.8h1.1v1.1h-1.1zM148.6,427.6h1.1v1.1h-1.1zM123.7,425.0h1.1v1.1h-1.1zM120.6,426.8h1.1v1.1h-1.1zM139.3,423.9h1.1v1.1h-1.1zM138.7,415.8h1.1v1.1h-1.1zM121.4,431.0h1.1v1.1h-1.1zM122.5,424.3h1.1v1.1h-1.1zM138.5,426.8h1.1v1.1h-1.1zM127.7,415.5h1.1v1.1h-1.1zM123.9,419.6h1.1v1.1h-1.1zM129.8,424.7h1.1v1.1h-1.1zM139.0,431.8h1.1v1.1h-1.1zM127.1,401.2h1.1v1.1h-1.1zM146.3,428.7h1.1v1.1h-1.1zM143.6,434.5h1.1v1.1h-1.1zM137.1,429.3h1.1v1.1h-1.1zM129.0,439.7h1.1v1.1h-1.1zM134.9,433.7h1.1v1.1h-1.1zM132.1,429.8h1.1v1.1h-1.1zM124.7,426.0h1.1v1.1h-1.1zM127.4,418.9h1.1v1.1h-1.1zM134.3,427.9h1.1v1.1h-1.1zM135.3,426.9h1.1v1.1h-1.1zM132.0,420.2h1.1v1.1h-1.1zM122.9,420.7h1.1v1.1h-1.1zM135.1,422.2h1.1v1.1h-1.1zM129.1,424.4h1.1v1.1h-1.1zM138.9,421.9h1.1v1.1h-1.1zM123.1,425.3h1.1v1.1h-1.1zM126.4,420.4h1.1v1.1h-1.1zM146.1,414.8h1.1v1.1h-1.1zM133.5,420.4h1.1v1.1h-1.1zM128.5,426.2h1.1v1.1h-1.1zM136.6,424.5h1.1v1.1h-1.1zM133.8,423.0h1.1v1.1h-1.1zM133.5,424.2h1.1v1.1h-1.1zM126.1,432.9h1.1v1.1h-1.1zM130.6,415.6h1.1v1.1h-1.1zM131.5,429.3h1.1v1.1h-1.1zM125.2,411.8h1.1v1.1h-1.1zM121.6,418.1h1.1v1.1h-1.1zM131.0,424.3h1.1v1.1h-1.1zM137.3,418.7h1.1v1.1h-1.1zM134.9,425.4h1.1v1.1h-1.1zM133.7,428.7h1.1v1.1h-1.1zM133.8,415.6h1.1v1.1h-1.1zM149.4,426.3h1.1v1.1h-1.1zM131.9,420.8h1.1v1.1h-1.1zM137.8,411.4h1.1v1.1h-1.1zM144.7,424.7h1.1v1.1h-1.1zM130.4,417.7h1.1v1.1h-1.1zM132.0,432.5h1.1v1.1h-1.1zM137.8,418.6h1.1v1.1h-1.1zM142.7,437.1h1.1v1.1h-1.1zM132.3,419.8h1.1v1.1h-1.1zM132.7,436.7h1.1v1.1h-1.1zM130.7,426.8h1.1v1.1h-1.1zM121.0,424.3h1.1v1.1h-1.1zM138.4,430.2h1.1v1.1h-1.1zM128.1,428.8h1.1v1.1h-1.1zM128.9,434.6h1.1v1.1h-1.1zM122.5,413.0h1.1v1.1h-1.1zM130.2,404.9h1.1v1.1h-1.1zM123.1,419.0h1.1v1.1h-1.1zM138.1,429.8h1.1v1.1h-1.1zM132.0,424.2h1.1v1.1h-1.1zM134.2,421.5h1.1v1.1h-1.1zM141.0,420.8h1.1v1.1h-1.1zM137.0,422.5h1.1v1.1h-1.1zM131.8,426.0h1.1v1.1h-1.1zM130.7,411.1h1.1v1.1h-1.1zM129.6,427.9h1.1v1.1h-1.1zM138.6,414.8h1.1v1.1h-1.1zM125.1,421.0h1.1v1.1h-1.1zM134.0,419.5h1.1v1.1h-1.1zM129.4,420.4h1.1v1.1h-1.1zM131.9,416.3h1.1v1.1h-1.1zM128.1,414.8h1.1v1.1h-1.1zM146.1,424.6h1.1v1.1h-1.1zM125.1,414.6h1.1v1.1h-1.1zM132.0,440.1h1.1v1.1h-1.1zM132.2,420.6h1.1v1.1h-1.1zM134.6,419.4h1.1v1.1h-1.1zM133.5,419.9h1.1v1.1h-1.1zM133.3,416.3h1.1v1.1h-1.1zM137.5,407.7h1.1v1.1h-1.1zM130.2,425.1h1.1v1.1h-1.1zM120.8,410.9h1.1v1.1h-1.1zM131.8,423.4h1.1v1.1h-1.1zM121.2,413.0h1.1v1.1h-1.1zM122.9,421.3h1.1v1.1h-1.1zM129.6,425.3h1.1v1.1h-1.1zM140.6,428.4h1.1v1.1h-1.1zM134.4,426.8h1.1v1.1h-1.1zM132.3,418.6h1.1v1.1h-1.1zM140.6,431.1h1.1v1.1h-1.1zM123.0,418.5h1.1v1.1h-1.1zM126.9,427.1h1.1v1.1h-1.1zM128.0,420.5h1.1v1.1h-1.1zM139.4,416.1h1.1v1.1h-1.1zM146.1,430.3h1.1v1.1h-1.1zM148.7,420.6h1.1v1.1h-1.1zM141.8,417.8h1.1v1.1h-1.1zM136.4,429.9h1.1v1.1h-1.1zM132.9,422.4h1.1v1.1h-1.1zM148.3,411.3h1.1v1.1h-1.1zM130.7,428.1h1.1v1.1h-1.1zM126.6,436.3h1.1v1.1h-1.1zM131.1,435.4h1.1v1.1h-1.1zM133.6,424.2h1.1v1.1h-1.1zM129.3,426.3h1.1v1.1h-1.1zM132.6,429.5h1.1v1.1h-1.1zM132.8,423.7h1.1v1.1h-1.1zM122.2,413.9h1.1v1.1h-1.1zM140.0,430.1h1.1v1.1h-1.1zM122.5,425.6h1.1v1.1h-1.1zM136.8,415.2h1.1v1.1h-1.1zM132.9,425.3h1.1v1.1h-1.1zM124.0,421.7h1.1v1.1h-1.1zM130.4,426.6h1.1v1.1h-1.1zM125.2,427.4h1.1v1.1h-1.1zM138.9,398.4h1.1v1.1h-1.1zM148.4,406.9h1.1v1.1h-1.1zM130.6,380.9h1.1v1.1h-1.1zM126.0,396.8h1.1v1.1h-1.1zM130.2,380.3h1.1v1.1h-1.1zM137.4,368.3h1.1v1.1h-1.1zM127.0,408.5h1.1v1.1h-1.1zM150.1,408.5h1.1v1.1h-1.1zM146.2,379.4h1.1v1.1h-1.1zM149.7,379.5h1.1v1.1h-1.1zM139.6,402.6h1.1v1.1h-1.1zM146.5,394.8h1.1v1.1h-1.1zM143.8,393.2h1.1v1.1h-1.1zM132.7,397.5h1.1v1.1h-1.1zM142.5,391.9h1.1v1.1h-1.1zM131.0,406.2h1.1v1.1h-1.1zM135.9,406.6h1.1v1.1h-1.1zM146.3,399.4h1.1v1.1h-1.1zM137.0,364.9h1.1v1.1h-1.1zM130.9,391.9h1.1v1.1h-1.1zM147.0,402.8h1.1v1.1h-1.1zM135.7,407.9h1.1v1.1h-1.1zM128.9,400.9h1.1v1.1h-1.1zM132.8,400.8h1.1v1.1h-1.1zM132.8,395.3h1.1v1.1h-1.1zM148.5,392.0h1.1v1.1h-1.1zM138.1,392.2h1.1v1.1h-1.1zM148.7,409.4h1.1v1.1h-1.1zM136.6,402.2h1.1v1.1h-1.1zM149.5,390.7h1.1v1.1h-1.1zM149.3,377.7h1.1v1.1h-1.1zM138.7,407.1h1.1v1.1h-1.1zM145.8,390.8h1.1v1.1h-1.1zM138.1,364.6h1.1v1.1h-1.1zM125.9,407.1h1.1v1.1h-1.1zM140.0,404.4h1.1v1.1h-1.1zM125.7,400.8h1.1v1.1h-1.1zM140.6,370.5h1.1v1.1h-1.1zM142.0,389.4h1.1v1.1h-1.1zM144.5,405.8h1.1v1.1h-1.1zM148.4,393.0h1.1v1.1h-1.1zM128.5,406.5h1.1v1.1h-1.1zM147.1,408.4h1.1v1.1h-1.1zM139.4,386.8h1.1v1.1h-1.1zM143.0,379.4h1.1v1.1h-1.1zM135.5,408.7h1.1v1.1h-1.1zM147.9,375.9h1.1v1.1h-1.1zM132.7,398.4h1.1v1.1h-1.1zM123.3,405.4h1.1v1.1h-1.1zM146.9,390.5h1.1v1.1h-1.1zM141.4,406.9h1.1v1.1h-1.1zM144.6,385.2h1.1v1.1h-1.1zM127.9,399.3h1.1v1.1h-1.1zM135.9,370.4h1.1v1.1h-1.1zM140.6,404.3h1.1v1.1h-1.1zM143.8,408.2h1.1v1.1h-1.1zM143.0,388.8h1.1v1.1h-1.1zM141.3,390.7h1.1v1.1h-1.1zM141.5,403.5h1.1v1.1h-1.1zM128.1,401.5h1.1v1.1h-1.1zM140.2,371.4h1.1v1.1h-1.1zM135.6,386.5h1.1v1.1h-1.1zM143.6,406.0h1.1v1.1h-1.1zM139.8,387.1h1.1v1.1h-1.1zM144.5,387.5h1.1v1.1h-1.1zM142.7,403.1h1.1v1.1h-1.1zM148.3,406.0h1.1v1.1h-1.1zM147.5,390.8h1.1v1.1h-1.1zM134.2,365.7h1.1v1.1h-1.1zM141.6,406.4h1.1v1.1h-1.1zM133.3,406.6h1.1v1.1h-1.1zM130.3,386.3h1.1v1.1h-1.1zM137.9,394.9h1.1v1.1h-1.1zM146.5,407.8h1.1v1.1h-1.1zM145.6,400.3h1.1v1.1h-1.1zM128.9,393.0h1.1v1.1h-1.1zM135.5,372.1h1.1v1.1h-1.1zM143.4,393.5h1.1v1.1h-1.1zM150.2,397.0h1.1v1.1h-1.1zM124.9,406.8h1.1v1.1h-1.1zM126.8,400.3h1.1v1.1h-1.1zM142.7,403.3h1.1v1.1h-1.1zM140.2,406.3h1.1v1.1h-1.1zM146.1,398.5h1.1v1.1h-1.1zM136.3,366.9h1.1v1.1h-1.1zM138.5,393.4h1.1v1.1h-1.1zM146.9,377.8h1.1v1.1h-1.1zM134.3,402.2h1.1v1.1h-1.1zM134.6,402.7h1.1v1.1h-1.1zM124.2,404.4h1.1v1.1h-1.1zM146.9,375.3h1.1v1.1h-1.1zM138.5,384.5h1.1v1.1h-1.1zM135.1,396.1h1.1v1.1h-1.1zM142.4,393.7h1.1v1.1h-1.1zM147.7,383.2h1.1v1.1h-1.1zM147.7,392.4h1.1v1.1h-1.1zM133.1,402.8h1.1v1.1h-1.1zM142.4,382.2h1.1v1.1h-1.1zM137.1,385.3h1.1v1.1h-1.1zM146.8,398.0h1.1v1.1h-1.1zM145.1,407.4h1.1v1.1h-1.1zM141.7,403.7h1.1v1.1h-1.1zM147.1,371.4h1.1v1.1h-1.1zM138.6,395.3h1.1v1.1h-1.1zM140.1,396.0h1.1v1.1h-1.1zM133.9,376.4h1.1v1.1h-1.1zM143.6,395.7h1.1v1.1h-1.1zM136.4,376.6h1.1v1.1h-1.1zM138.3,409.3h1.1v1.1h-1.1zM131.2,374.2h1.1v1.1h-1.1zM139.9,363.0h1.1v1.1h-1.1zM141.9,389.0h1.1v1.1h-1.1zM141.5,396.5h1.1v1.1h-1.1zM142.3,373.7h1.1v1.1h-1.1zM131.5,398.3h1.1v1.1h-1.1zM143.3,383.7h1.1v1.1h-1.1zM143.1,387.6h1.1v1.1h-1.1zM139.3,408.1h1.1v1.1h-1.1zM137.1,383.7h1.1v1.1h-1.1zM131.4,386.8h1.1v1.1h-1.1zM139.1,401.3h1.1v1.1h-1.1zM128.5,389.3h1.1v1.1h-1.1zM148.7,403.5h1.1v1.1h-1.1zM134.5,395.8h1.1v1.1h-1.1zM136.7,374.8h1.1v1.1h-1.1zM138.9,382.8h1.1v1.1h-1.1zM132.0,379.3h1.1v1.1h-1.1zM148.4,383.6h1.1v1.1h-1.1zM150.6,375.7h1.1v1.1h-1.1zM147.1,383.8h1.1v1.1h-1.1zM139.4,402.6h1.1v1.1h-1.1zM149.3,406.9h1.1v1.1h-1.1zM135.5,386.7h1.1v1.1h-1.1zM140.1,376.1h1.1v1.1h-1.1zM132.0,386.2h1.1v1.1h-1.1zM134.4,409.1h1.1v1.1h-1.1zM149.4,384.8h1.1v1.1h-1.1zM142.7,392.4h1.1v1.1h-1.1zM139.4,396.5h1.1v1.1h-1.1zM139.2,395.5h1.1v1.1h-1.1zM141.0,403.3h1.1v1.1h-1.1zM140.0,406.4h1.1v1.1h-1.1zM139.1,381.6h1.1v1.1h-1.1zM116.1,390.1h1.1v1.1h-1.1zM115.4,402.2h1.1v1.1h-1.1zM113.2,393.8h1.1v1.1h-1.1zM119.0,390.9h1.1v1.1h-1.1zM113.0,405.2h1.1v1.1h-1.1zM112.2,394.3h1.1v1.1h-1.1zM120.1,396.7h1.1v1.1h-1.1zM119.2,404.1h1.1v1.1h-1.1zM111.2,392.6h1.1v1.1h-1.1zM120.1,394.7h1.1v1.1h-1.1zM115.0,407.6h1.1v1.1h-1.1zM112.1,408.4h1.1v1.1h-1.1zM117.5,401.2h1.1v1.1h-1.1zM111.0,401.2h1.1v1.1h-1.1zM141.4,456.7h1.1v1.1h-1.1zM133.4,444.7h1.1v1.1h-1.1zM137.6,427.2h1.1v1.1h-1.1zM134.8,439.7h1.1v1.1h-1.1zM138.9,427.7h1.1v1.1h-1.1zM137.8,436.8h1.1v1.1h-1.1zM141.6,447.5h1.1v1.1h-1.1zM141.0,433.5h1.1v1.1h-1.1zM138.7,439.5h1.1v1.1h-1.1zM141.7,443.0h1.1v1.1h-1.1zM136.1,445.7h1.1v1.1h-1.1zM137.4,442.4h1.1v1.1h-1.1zM142.8,449.5h1.1v1.1h-1.1zM135.4,437.3h1.1v1.1h-1.1zM149.5,451.4h1.1v1.1h-1.1zM145.0,446.8h1.1v1.1h-1.1zM139.6,441.7h1.1v1.1h-1.1zM150.5,452.9h1.1v1.1h-1.1zM149.2,440.3h1.1v1.1h-1.1zM132.8,440.4h1.1v1.1h-1.1zM139.0,460.0h1.1v1.1h-1.1zM147.0,468.0h1.1v1.1h-1.1zM133.0,452.0h1.1v1.1h-1.1zM107.0,366.5h1.1v1.1h-1.1zM109.5,366.5h1.1v1.1h-1.1zM97.0,402.0h1.1v1.1h-1.1zM80.0,423.0h1.1v1.1h-1.1zM112.0,398.0h1.1v1.1h-1.1zM116.0,392.0h1.1v1.1h-1.1zM104.0,402.0h1.1v1.1h-1.1zM148.0,443.0h1.1v1.1h-1.1zM151.0,454.0h1.1v1.1h-1.1zM151.5,336.0h1.1v1.1h-1.1zM351.1,434.0h1.1v1.1h-1.1zM342.0,427.5h1.1v1.1h-1.1zM350.7,431.9h1.1v1.1h-1.1zM356.7,435.3h1.1v1.1h-1.1zM342.7,429.9h1.1v1.1h-1.1zM354.0,418.3h1.1v1.1h-1.1zM346.4,428.5h1.1v1.1h-1.1zM346.5,428.2h1.1v1.1h-1.1zM346.9,439.7h1.1v1.1h-1.1zM356.9,417.9h1.1v1.1h-1.1zM337.9,436.5h1.1v1.1h-1.1zM344.3,427.1h1.1v1.1h-1.1zM353.1,433.1h1.1v1.1h-1.1zM337.1,426.4h1.1v1.1h-1.1zM334.0,429.0h1.1v1.1h-1.1zM352.3,434.2h1.1v1.1h-1.1zM347.5,428.5h1.1v1.1h-1.1zM346.2,433.8h1.1v1.1h-1.1zM348.7,427.6h1.1v1.1h-1.1zM339.2,425.8h1.1v1.1h-1.1zM339.1,425.3h1.1v1.1h-1.1zM343.8,427.4h1.1v1.1h-1.1zM335.4,435.5h1.1v1.1h-1.1zM343.9,421.6h1.1v1.1h-1.1zM360.4,418.9h1.1v1.1h-1.1zM347.6,428.0h1.1v1.1h-1.1zM352.5,437.3h1.1v1.1h-1.1zM343.4,433.8h1.1v1.1h-1.1zM362.9,435.4h1.1v1.1h-1.1zM348.9,435.0h1.1v1.1h-1.1zM336.9,424.1h1.1v1.1h-1.1zM354.0,428.7h1.1v1.1h-1.1zM344.3,413.5h1.1v1.1h-1.1zM352.6,424.7h1.1v1.1h-1.1zM348.6,431.4h1.1v1.1h-1.1zM349.7,419.5h1.1v1.1h-1.1zM348.6,416.8h1.1v1.1h-1.1zM339.8,421.0h1.1v1.1h-1.1zM334.7,429.3h1.1v1.1h-1.1zM355.8,434.6h1.1v1.1h-1.1zM346.3,442.4h1.1v1.1h-1.1zM349.9,436.0h1.1v1.1h-1.1zM343.5,419.8h1.1v1.1h-1.1zM330.3,415.4h1.1v1.1h-1.1zM336.6,429.0h1.1v1.1h-1.1zM359.3,434.0h1.1v1.1h-1.1zM340.8,419.3h1.1v1.1h-1.1zM344.2,425.3h1.1v1.1h-1.1zM335.0,425.7h1.1v1.1h-1.1zM343.0,428.4h1.1v1.1h-1.1zM344.3,427.3h1.1v1.1h-1.1zM345.6,431.1h1.1v1.1h-1.1zM346.8,434.1h1.1v1.1h-1.1zM342.1,428.7h1.1v1.1h-1.1zM342.6,432.4h1.1v1.1h-1.1zM347.3,439.3h1.1v1.1h-1.1zM350.2,422.7h1.1v1.1h-1.1zM346.2,422.6h1.1v1.1h-1.1zM362.2,431.1h1.1v1.1h-1.1zM349.2,438.5h1.1v1.1h-1.1zM348.8,429.3h1.1v1.1h-1.1zM341.8,434.4h1.1v1.1h-1.1zM356.2,426.7h1.1v1.1h-1.1zM338.7,433.4h1.1v1.1h-1.1zM333.7,424.9h1.1v1.1h-1.1zM339.1,432.1h1.1v1.1h-1.1zM352.7,430.6h1.1v1.1h-1.1zM337.7,430.6h1.1v1.1h-1.1zM358.4,436.0h1.1v1.1h-1.1zM347.2,434.3h1.1v1.1h-1.1zM334.5,425.2h1.1v1.1h-1.1zM345.5,433.3h1.1v1.1h-1.1zM362.6,419.1h1.1v1.1h-1.1zM340.1,433.9h1.1v1.1h-1.1zM336.3,443.6h1.1v1.1h-1.1zM351.8,431.4h1.1v1.1h-1.1zM358.5,431.3h1.1v1.1h-1.1zM356.0,428.9h1.1v1.1h-1.1zM344.6,433.1h1.1v1.1h-1.1zM349.0,426.1h1.1v1.1h-1.1zM350.2,432.3h1.1v1.1h-1.1zM357.4,427.1h1.1v1.1h-1.1zM365.7,426.3h1.1v1.1h-1.1zM346.5,429.3h1.1v1.1h-1.1zM358.4,428.3h1.1v1.1h-1.1zM344.5,419.1h1.1v1.1h-1.1zM352.4,440.1h1.1v1.1h-1.1zM339.5,429.4h1.1v1.1h-1.1zM340.9,419.3h1.1v1.1h-1.1zM350.9,434.6h1.1v1.1h-1.1zM339.8,428.5h1.1v1.1h-1.1zM354.9,429.8h1.1v1.1h-1.1zM342.7,432.6h1.1v1.1h-1.1zM348.0,423.8h1.1v1.1h-1.1zM346.7,412.5h1.1v1.1h-1.1zM344.6,428.1h1.1v1.1h-1.1zM348.5,430.0h1.1v1.1h-1.1zM356.6,434.2h1.1v1.1h-1.1zM337.3,427.2h1.1v1.1h-1.1zM349.9,430.9h1.1v1.1h-1.1zM345.9,426.9h1.1v1.1h-1.1zM339.6,427.3h1.1v1.1h-1.1zM349.8,430.1h1.1v1.1h-1.1zM339.9,423.2h1.1v1.1h-1.1zM346.7,437.4h1.1v1.1h-1.1zM357.9,423.6h1.1v1.1h-1.1zM330.2,428.9h1.1v1.1h-1.1zM349.5,426.9h1.1v1.1h-1.1zM351.2,424.8h1.1v1.1h-1.1zM339.3,431.6h1.1v1.1h-1.1zM351.8,434.2h1.1v1.1h-1.1zM350.4,436.7h1.1v1.1h-1.1zM344.4,431.9h1.1v1.1h-1.1zM357.7,426.2h1.1v1.1h-1.1zM336.3,433.4h1.1v1.1h-1.1zM352.9,420.7h1.1v1.1h-1.1zM345.4,428.9h1.1v1.1h-1.1zM338.4,431.5h1.1v1.1h-1.1zM345.9,431.8h1.1v1.1h-1.1zM344.4,422.3h1.1v1.1h-1.1zM354.4,420.4h1.1v1.1h-1.1zM334.7,437.8h1.1v1.1h-1.1zM345.7,425.8h1.1v1.1h-1.1zM343.5,419.6h1.1v1.1h-1.1zM360.8,421.8h1.1v1.1h-1.1zM337.9,428.7h1.1v1.1h-1.1zM356.4,435.1h1.1v1.1h-1.1zM332.5,428.6h1.1v1.1h-1.1zM350.3,435.2h1.1v1.1h-1.1zM346.2,429.8h1.1v1.1h-1.1zM350.6,431.1h1.1v1.1h-1.1zM341.4,434.0h1.1v1.1h-1.1zM330.8,426.5h1.1v1.1h-1.1zM334.2,430.2h1.1v1.1h-1.1zM358.5,426.4h1.1v1.1h-1.1zM349.1,425.0h1.1v1.1h-1.1zM340.0,432.1h1.1v1.1h-1.1zM355.0,424.0h1.1v1.1h-1.1zM341.0,428.9h1.1v1.1h-1.1zM341.0,424.1h1.1v1.1h-1.1zM337.0,428.0h1.1v1.1h-1.1zM357.3,425.6h1.1v1.1h-1.1zM364.0,434.5h1.1v1.1h-1.1zM339.1,428.9h1.1v1.1h-1.1zM349.7,428.9h1.1v1.1h-1.1zM355.6,437.5h1.1v1.1h-1.1zM365.2,412.5h1.1v1.1h-1.1zM326.9,422.2h1.1v1.1h-1.1zM348.4,413.3h1.1v1.1h-1.1zM352.7,428.3h1.1v1.1h-1.1zM334.7,430.7h1.1v1.1h-1.1zM350.7,431.9h1.1v1.1h-1.1zM348.9,429.8h1.1v1.1h-1.1zM353.4,423.5h1.1v1.1h-1.1zM342.3,437.9h1.1v1.1h-1.1zM350.8,429.9h1.1v1.1h-1.1zM342.1,426.8h1.1v1.1h-1.1zM352.4,422.1h1.1v1.1h-1.1zM348.5,430.5h1.1v1.1h-1.1zM344.0,425.5h1.1v1.1h-1.1zM335.2,425.7h1.1v1.1h-1.1zM361.2,429.3h1.1v1.1h-1.1zM356.6,429.4h1.1v1.1h-1.1zM354.7,423.7h1.1v1.1h-1.1zM341.5,435.1h1.1v1.1h-1.1zM344.2,422.7h1.1v1.1h-1.1zM361.4,422.0h1.1v1.1h-1.1zM353.5,429.9h1.1v1.1h-1.1zM340.0,428.9h1.1v1.1h-1.1zM347.6,428.5h1.1v1.1h-1.1zM348.4,425.9h1.1v1.1h-1.1zM345.5,428.4h1.1v1.1h-1.1zM339.2,425.0h1.1v1.1h-1.1zM357.9,419.1h1.1v1.1h-1.1zM352.2,432.2h1.1v1.1h-1.1zM345.5,422.5h1.1v1.1h-1.1zM333.9,426.9h1.1v1.1h-1.1zM342.3,432.1h1.1v1.1h-1.1zM347.2,428.2h1.1v1.1h-1.1zM354.6,443.2h1.1v1.1h-1.1zM344.1,420.4h1.1v1.1h-1.1zM356.7,424.0h1.1v1.1h-1.1zM348.5,428.6h1.1v1.1h-1.1zM340.9,435.6h1.1v1.1h-1.1zM323.5,426.7h1.1v1.1h-1.1zM337.3,420.2h1.1v1.1h-1.1zM334.6,434.4h1.1v1.1h-1.1zM346.0,423.0h1.1v1.1h-1.1zM350.1,427.0h1.1v1.1h-1.1zM359.1,432.9h1.1v1.1h-1.1zM347.2,424.4h1.1v1.1h-1.1zM337.5,425.6h1.1v1.1h-1.1zM367.3,430.8h1.1v1.1h-1.1zM350.0,426.9h1.1v1.1h-1.1zM345.1,429.6h1.1v1.1h-1.1zM345.1,422.9h1.1v1.1h-1.1zM335.9,427.4h1.1v1.1h-1.1zM352.8,422.0h1.1v1.1h-1.1zM350.6,419.5h1.1v1.1h-1.1zM360.9,437.7h1.1v1.1h-1.1zM356.8,430.5h1.1v1.1h-1.1zM354.8,433.1h1.1v1.1h-1.1zM358.1,422.7h1.1v1.1h-1.1zM345.0,427.9h1.1v1.1h-1.1zM343.6,426.9h1.1v1.1h-1.1zM347.0,420.2h1.1v1.1h-1.1zM336.8,431.0h1.1v1.1h-1.1zM346.2,424.1h1.1v1.1h-1.1zM344.6,426.9h1.1v1.1h-1.1zM353.1,419.7h1.1v1.1h-1.1zM347.3,433.5h1.1v1.1h-1.1zM331.3,432.2h1.1v1.1h-1.1zM347.7,430.2h1.1v1.1h-1.1zM359.5,423.0h1.1v1.1h-1.1zM331.9,425.1h1.1v1.1h-1.1zM341.0,434.7h1.1v1.1h-1.1zM347.7,426.5h1.1v1.1h-1.1zM336.2,429.5h1.1v1.1h-1.1zM342.9,428.8h1.1v1.1h-1.1zM348.0,421.9h1.1v1.1h-1.1zM336.3,436.4h1.1v1.1h-1.1zM350.0,417.1h1.1v1.1h-1.1zM351.0,429.3h1.1v1.1h-1.1zM336.8,427.5h1.1v1.1h-1.1zM347.8,419.1h1.1v1.1h-1.1zM356.8,429.8h1.1v1.1h-1.1zM346.1,430.9h1.1v1.1h-1.1zM351.3,428.3h1.1v1.1h-1.1zM353.1,423.5h1.1v1.1h-1.1zM345.6,430.5h1.1v1.1h-1.1zM356.0,434.2h1.1v1.1h-1.1zM350.9,429.2h1.1v1.1h-1.1zM339.2,437.5h1.1v1.1h-1.1zM352.1,432.7h1.1v1.1h-1.1zM355.0,432.3h1.1v1.1h-1.1zM354.5,435.7h1.1v1.1h-1.1zM342.2,424.4h1.1v1.1h-1.1zM351.6,425.2h1.1v1.1h-1.1zM359.4,430.9h1.1v1.1h-1.1zM349.7,430.9h1.1v1.1h-1.1zM357.8,436.3h1.1v1.1h-1.1zM358.8,434.3h1.1v1.1h-1.1zM347.4,429.0h1.1v1.1h-1.1zM353.3,429.2h1.1v1.1h-1.1zM345.3,426.5h1.1v1.1h-1.1zM356.8,426.0h1.1v1.1h-1.1zM347.0,425.6h1.1v1.1h-1.1zM343.1,433.0h1.1v1.1h-1.1zM347.5,425.5h1.1v1.1h-1.1zM347.2,426.1h1.1v1.1h-1.1zM351.0,429.0h1.1v1.1h-1.1zM351.7,425.3h1.1v1.1h-1.1zM337.9,426.8h1.1v1.1h-1.1zM342.3,416.1h1.1v1.1h-1.1zM350.9,430.2h1.1v1.1h-1.1zM351.9,426.4h1.1v1.1h-1.1zM348.5,429.2h1.1v1.1h-1.1zM382.5,444.6h1.1v1.1h-1.1zM388.8,431.4h1.1v1.1h-1.1zM391.4,434.2h1.1v1.1h-1.1zM376.6,428.4h1.1v1.1h-1.1zM385.2,438.3h1.1v1.1h-1.1zM366.3,425.3h1.1v1.1h-1.1zM396.4,432.4h1.1v1.1h-1.1zM379.7,444.7h1.1v1.1h-1.1zM384.5,429.8h1.1v1.1h-1.1zM368.7,428.5h1.1v1.1h-1.1zM385.9,431.8h1.1v1.1h-1.1zM399.0,429.3h1.1v1.1h-1.1zM393.9,433.1h1.1v1.1h-1.1zM385.7,435.5h1.1v1.1h-1.1zM375.9,433.9h1.1v1.1h-1.1zM371.2,429.2h1.1v1.1h-1.1zM382.2,418.9h1.1v1.1h-1.1zM387.1,449.7h1.1v1.1h-1.1zM381.8,439.7h1.1v1.1h-1.1zM388.2,432.8h1.1v1.1h-1.1zM392.7,439.5h1.1v1.1h-1.1zM400.7,422.7h1.1v1.1h-1.1zM400.7,434.7h1.1v1.1h-1.1zM389.6,430.4h1.1v1.1h-1.1zM389.1,432.8h1.1v1.1h-1.1zM391.3,431.1h1.1v1.1h-1.1zM401.7,439.0h1.1v1.1h-1.1zM402.0,431.3h1.1v1.1h-1.1zM383.2,426.7h1.1v1.1h-1.1zM375.4,427.1h1.1v1.1h-1.1zM389.8,430.1h1.1v1.1h-1.1zM399.0,423.7h1.1v1.1h-1.1zM400.7,426.8h1.1v1.1h-1.1zM387.9,429.3h1.1v1.1h-1.1zM369.0,432.8h1.1v1.1h-1.1zM395.5,424.7h1.1v1.1h-1.1zM399.3,438.8h1.1v1.1h-1.1zM379.2,425.1h1.1v1.1h-1.1zM384.7,422.9h1.1v1.1h-1.1zM401.6,420.2h1.1v1.1h-1.1zM381.9,381.6h1.1v1.1h-1.1zM394.1,397.5h1.1v1.1h-1.1zM360.7,401.7h1.1v1.1h-1.1zM372.4,401.7h1.1v1.1h-1.1zM372.0,406.0h1.1v1.1h-1.1zM356.0,405.0h1.1v1.1h-1.1zM364.0,404.0h1.1v1.1h-1.1z" fill="#111" fill-opacity="0.85"/>
</svg>
</body></html>
